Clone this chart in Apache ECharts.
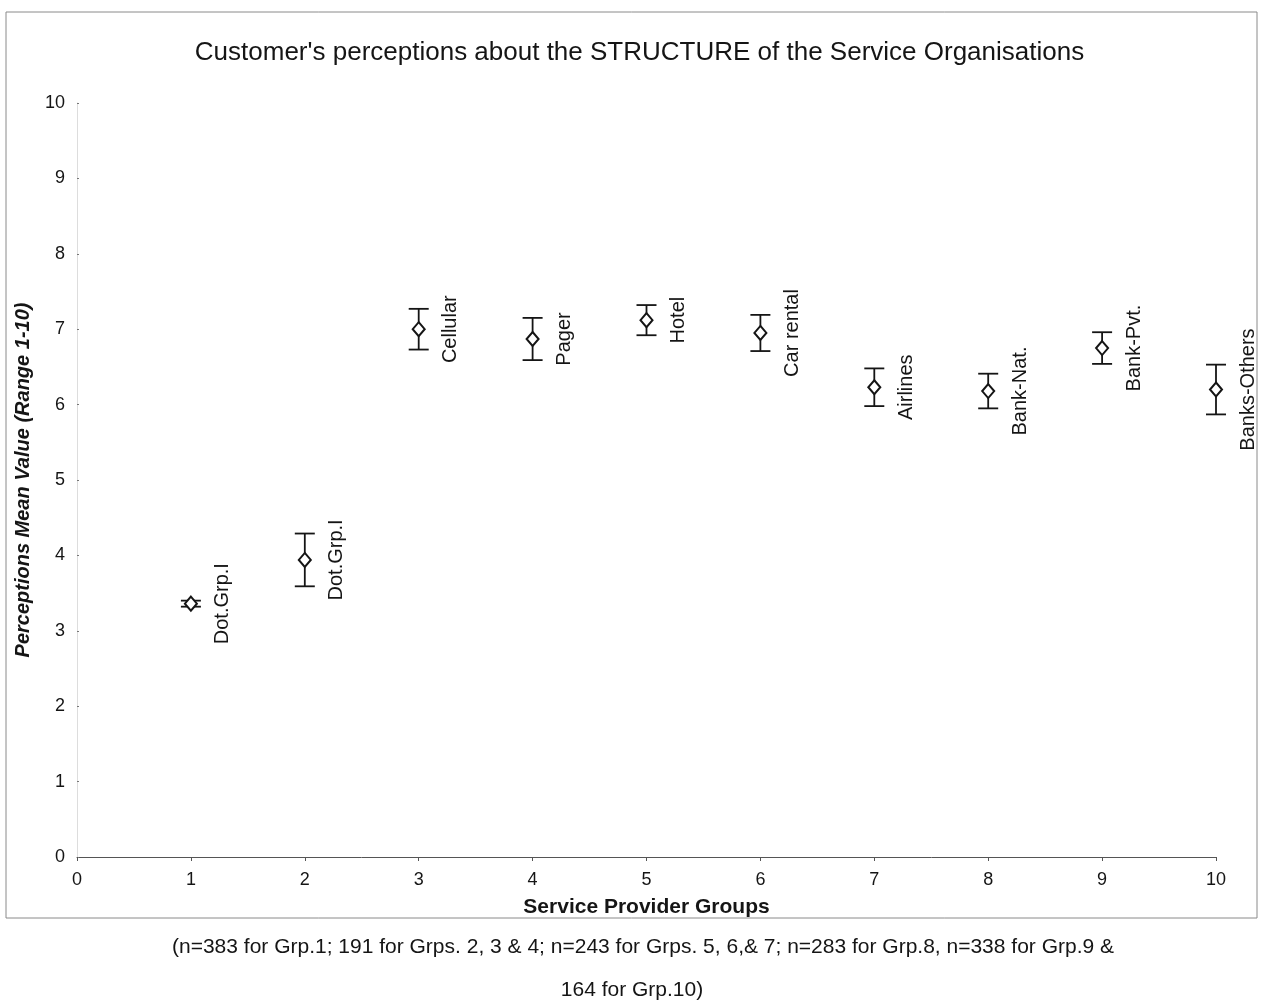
<!DOCTYPE html>
<html>
<head>
<meta charset="utf-8">
<title>Customer's perceptions about the STRUCTURE of the Service Organisations</title>
<script src="https://cdn.jsdelivr.net/npm/echarts@6/dist/echarts.min.js"></script>
<style>
  html, body { margin: 0; padding: 0; background: #fff; }
  #chart { width: 1279px; height: 1007px; }
</style>
</head>
<body>
<div id="chart"></div>
<script>
// Service provider groups (x positions) and their names
const groups = [1, 2, 3, 4, 5, 6, 7, 8, 9, 10];
const groupNames = ['Dot.Grp.I', 'Dot.Grp.I', 'Cellular', 'Pager', 'Hotel', 'Car rental',
                    'Airlines', 'Bank-Nat.', 'Bank-Pvt.', 'Banks-Others'];
// Mean perception scores (range 1-10) and half-width of each error bar
const means = [3.36, 3.94, 7.00, 6.87, 7.12, 6.95, 6.23, 6.18, 6.75, 6.20];
const errors = [0.04, 0.35, 0.27, 0.28, 0.20, 0.24, 0.25, 0.23, 0.21, 0.33];
// Axis ticks
const xTicks = [0, 1, 2, 3, 4, 5, 6, 7, 8, 9, 10];
const yTicks = [0, 1, 2, 3, 4, 5, 6, 7, 8, 9, 10];

const sampleNote = [
  '(n=383 for Grp.1; 191 for Grps. 2, 3 & 4; n=243 for Grps. 5, 6,& 7; n=283 for Grp.8, n=338 for Grp.9 &',
  '164 for Grp.10)'
];

const FONT = '"Liberation Sans", Arial, sans-serif';
const INK = '#151515';

const chart = echarts.init(document.getElementById('chart'), null, { renderer: 'canvas' });

// Error bar with caps, hollow diamond at the mean and a vertical name label
function renderErrorPoint(params, api) {
  const gx = api.value(0);
  const m = api.value(1);
  const e = api.value(2);
  const c = api.coord([gx, m]);
  const hi = api.coord([gx, m + e]);
  const lo = api.coord([gx, m - e]);
  const cap = 10;
  const lineStyle = { stroke: INK, lineWidth: 1.8 };
  return {
    type: 'group',
    children: [
      { type: 'line', shape: { x1: c[0], y1: hi[1], x2: c[0], y2: lo[1] }, style: lineStyle },
      { type: 'line', shape: { x1: c[0] - cap, y1: hi[1], x2: c[0] + cap, y2: hi[1] }, style: lineStyle },
      { type: 'line', shape: { x1: c[0] - cap, y1: lo[1], x2: c[0] + cap, y2: lo[1] }, style: lineStyle },
      {
        type: 'polygon',
        shape: { points: [[c[0], c[1] - 7], [c[0] + 6, c[1]], [c[0], c[1] + 7], [c[0] - 6, c[1]]] },
        style: { fill: '#fff', stroke: INK, lineWidth: 2 }
      },
      {
        type: 'text',
        x: c[0] + 32,
        y: c[1],
        rotation: Math.PI / 2,
        style: {
          text: groupNames[params.dataIndex],
          fontSize: 20,
          fontFamily: FONT,
          fill: INK,
          align: 'center',
          verticalAlign: 'middle'
        }
      }
    ]
  };
}

const option = {
  backgroundColor: '#fff',
  animation: false,
  title: {
    text: "Customer's perceptions about the STRUCTURE of the Service Organisations",
    left: 'center',
    top: 35,
    textStyle: { fontFamily: FONT, fontSize: 26, fontWeight: 'normal', color: INK }
  },
  grid: { left: 77, right: 63, top: 103, bottom: 150, containLabel: false },
  xAxis: {
    type: 'value',
    min: xTicks[0],
    max: xTicks[xTicks.length - 1],
    interval: 1,
    name: 'Service Provider Groups',
    nameLocation: 'middle',
    nameGap: 40,
    nameTextStyle: { fontFamily: FONT, fontSize: 21, fontWeight: 'bold', color: INK },
    axisLine: { lineStyle: { color: '#555', width: 1 } },
    axisTick: { show: true, length: 4, inside: false, lineStyle: { color: '#555' } },
    axisLabel: { fontFamily: FONT, fontSize: 18, color: INK, margin: 14 },
    splitLine: { show: false }
  },
  yAxis: {
    type: 'value',
    min: yTicks[0],
    max: yTicks[yTicks.length - 1],
    interval: 1,
    name: 'Perceptions Mean Value (Range 1-10)',
    nameLocation: 'middle',
    nameGap: 44,
    nameTextStyle: { fontFamily: FONT, fontSize: 20, fontWeight: 'bold', fontStyle: 'italic', color: INK },
    axisLine: { show: true, lineStyle: { color: '#ddd', width: 1 } },
    axisTick: { show: true, length: 2, inside: true, lineStyle: { color: '#777' } },
    axisLabel: { fontFamily: FONT, fontSize: 18, color: INK, margin: 12 },
    splitLine: { show: false }
  },
  graphic: [
    {
      type: 'rect',
      shape: { x: 6, y: 12, width: 1251, height: 906 },
      style: { fill: 'none', stroke: '#8a8a8a', lineWidth: 1 },
      silent: true
    },
    {
      type: 'text',
      x: 643, y: 947,
      style: { text: sampleNote[0], fontFamily: FONT, fontSize: 21, fill: INK, align: 'center', verticalAlign: 'middle' }
    },
    {
      type: 'text',
      x: 632, y: 990,
      style: { text: sampleNote[1], fontFamily: FONT, fontSize: 21, fill: INK, align: 'center', verticalAlign: 'middle' }
    }
  ],
  series: [
    {
      type: 'custom',
      name: 'Structure',
      renderItem: renderErrorPoint,
      encode: { x: 0, y: 1 },
      data: groups.map((g, i) => [g, means[i], errors[i]])
    }
  ]
};

chart.setOption(option);
</script>
</body>
</html>
